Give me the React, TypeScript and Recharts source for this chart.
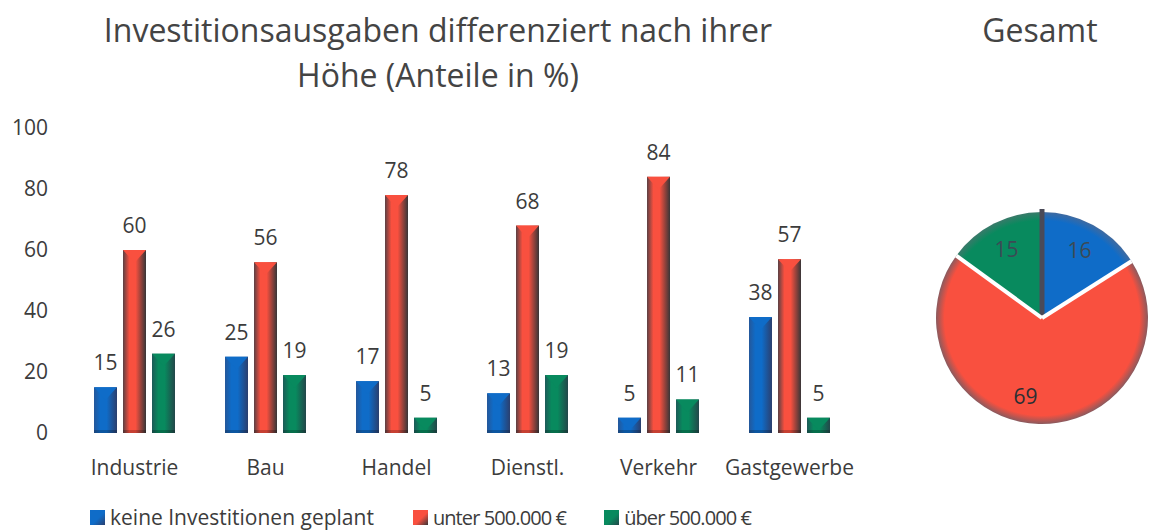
import { Bar, BarChart, Cell, LabelList, Legend, Pie, PieChart, XAxis, YAxis } from 'recharts';

const categories = ['Industrie', 'Bau', 'Handel', 'Dienstl.', 'Verkehr', 'Gastgewerbe'];
const keine = [15, 25, 17, 13, 5, 38];
const unter = [60, 56, 78, 68, 84, 57];
const ueber = [26, 19, 5, 19, 11, 5];
const yTicks = [0, 20, 40, 60, 80, 100];

const gesamtNames = ['keine Investitionen geplant', 'unter 500.000 €', 'über 500.000 €'];
const gesamtValues = [16, 69, 15];

const barData = categories.map((name, i) => ({ name, keine: keine[i], unter: unter[i], ueber: ueber[i] }));
const pieData = gesamtNames.map((name, i) => ({ name, value: gesamtValues[i] }));

const FONT = '"Open Sans", sans-serif';
const TEXT = '#3c3c3c';
const PIE_R = 106;
const PIE_CX = 122;
const PIE_CY = 128;

const palette = [
  { id: 'blau', base: '#0f6cc8', edgeL: '#24579a', edgeR: '#2b3f6e', rim: '#3f6aa0' },
  { id: 'rot', base: '#f9503f', edgeL: '#5a4044', edgeR: '#383638', rim: '#8a5a5e' },
  { id: 'gruen', base: '#088a5e', edgeL: '#1d5a58', edgeR: '#23474a', rim: '#3a7a6a' },
];

const BarGradient = ({ id, base, edgeL, edgeR }: { id: string; base: string; edgeL: string; edgeR: string }) => (
  <linearGradient id={id} x1="0" y1="0" x2="1" y2="0">
    <stop offset="0%" stopColor={edgeL} />
    <stop offset="28%" stopColor={base} />
    <stop offset="55%" stopColor={base} />
    <stop offset="100%" stopColor={edgeR} />
  </linearGradient>
);

// Balken mit abgeschraegter Oberkante wie im Original
const bevelBar = (base: string) => (props: any) => {
  const { x, y, width, height, fill } = props;
  return (
    <g>
      <rect x={x} y={y} width={width} height={height} fill={fill} />
      <polygon points={`${x},${y} ${x + width},${y} ${x + width / 2},${y + width * 0.55}`} fill={base} />
      <rect x={x} y={y + height - 3} width={width} height={3} fill="#000" opacity={0.2} />
    </g>
  );
};

const legendIcon = (c: { base: string; edgeR: string }) => ({
  display: 'inline-block',
  width: 15,
  height: 15,
  marginRight: 5,
  background: `linear-gradient(135deg, ${c.base} 55%, ${c.edgeR})`,
});

const renderLegend = (props: any) => {
  const gaps = [39, 38, 0];
  return (
    <div style={{ display: 'flex', alignItems: 'center', fontFamily: FONT, fontSize: 21, color: TEXT, whiteSpace: 'nowrap' }}>
      {(props.payload || []).map((item: any, i: number) => (
        <span
          key={item.value}
          style={{
            display: 'flex',
            alignItems: 'center',
            marginRight: gaps[i],
            // die Betragstexte laufen im Original deutlich schmaler
            fontSize: i === 0 ? 21 : 20,
            letterSpacing: i === 0 ? 0 : -0.9,
          }}
        >
          <span style={legendIcon(palette[i])} />
          {item.value}
        </span>
      ))}
    </div>
  );
};

const renderPieLabel = (props: any) => {
  const { cx, cy, midAngle, startAngle, value, index } = props;
  const rad = Math.PI / 180;
  const lx = cx + 78 * Math.cos(-midAngle * rad) + (index === 1 ? -14 : 0);
  const ly = cy + 78 * Math.sin(-midAngle * rad);
  const ex = cx + PIE_R * Math.cos(-startAngle * rad);
  const ey = cy + PIE_R * Math.sin(-startAngle * rad);
  return (
    <g>
      {index === 0 ? (
        <line x1={cx} y1={cy} x2={ex} y2={ey - 3} stroke="#4a4a58" strokeWidth={5} />
      ) : (
        <line x1={cx} y1={cy} x2={ex} y2={ey} stroke="#fff" strokeWidth={4} />
      )}
      <text
        x={lx}
        y={ly}
        textAnchor="middle"
        dominantBaseline="central"
        fontFamily={FONT}
        fontSize={21}
        fill={index === 1 ? '#2a2f33' : '#3c4a55'}
      >
        {value}
      </text>
    </g>
  );
};

const App = () => (
  <div style={{ position: 'absolute', left: 0, top: 0, width: 1152, height: 531, background: '#fff', overflow: 'hidden' }}>
    <div
      style={{
        position: 'absolute',
        left: 60,
        top: 7,
        width: 756,
        textAlign: 'center',
        fontFamily: FONT,
        fontSize: 32,
        lineHeight: '45px',
        color: '#444',
      }}
    >
      Investitionsausgaben differenziert nach ihrer
      <br />
      Höhe (Anteile in %)
    </div>
    <div
      style={{
        position: 'absolute',
        left: 940,
        top: 7,
        width: 200,
        textAlign: 'center',
        fontFamily: FONT,
        fontSize: 32,
        lineHeight: '45px',
        color: '#444',
      }}
    >
      Gesamt
    </div>

    <div style={{ position: 'absolute', left: 0, top: 0 }}>
      <BarChart
        width={900}
        height={531}
        data={barData}
        margin={{ top: 128, right: 45, bottom: 40, left: 9 }}
        barSize={23}
        barGap={6}
      >
        <defs>
          {palette.map((c) => (
            <BarGradient key={c.id} {...c} />
          ))}
        </defs>
        <XAxis
          dataKey="name"
          axisLine={false}
          tickLine={false}
          interval={0}
          tickMargin={21}
          tick={{ fontFamily: FONT, fontSize: 21, fill: TEXT }}
        />
        <YAxis
          width={60}
          domain={[0, 100]}
          ticks={yTicks}
          axisLine={false}
          tickLine={false}
          tickSize={0}
          tickMargin={21}
          tick={{ fontFamily: FONT, fontSize: 21, fill: TEXT }}
        />
        <Legend content={renderLegend} wrapperStyle={{ left: 90, top: 503, width: 'auto' }} />
        <Bar name="keine Investitionen geplant" dataKey="keine" fill="url(#blau)" shape={bevelBar(palette[0].base)} isAnimationActive={false}>
          <LabelList dataKey="keine" position="top" offset={17} style={{ fontFamily: FONT, fontSize: 21, fill: TEXT }} />
        </Bar>
        <Bar name="unter 500.000 €" dataKey="unter" fill="url(#rot)" shape={bevelBar(palette[1].base)} isAnimationActive={false}>
          <LabelList dataKey="unter" position="top" offset={17} style={{ fontFamily: FONT, fontSize: 21, fill: TEXT }} />
        </Bar>
        <Bar name="über 500.000 €" dataKey="ueber" fill="url(#gruen)" shape={bevelBar(palette[2].base)} isAnimationActive={false}>
          <LabelList dataKey="ueber" position="top" offset={17} style={{ fontFamily: FONT, fontSize: 21, fill: TEXT }} />
        </Bar>
      </BarChart>
    </div>

    <div style={{ position: 'absolute', left: 920, top: 190 }}>
      <PieChart width={232} height={250} margin={{ top: 0, right: 0, bottom: 0, left: 0 }}>
        <defs>
          {palette.map((c) => (
            <radialGradient key={c.id} id={`${c.id}Pie`} gradientUnits="userSpaceOnUse" cx={PIE_CX} cy={PIE_CY} r={PIE_R}>
              <stop offset="92%" stopColor={c.base} />
              <stop offset="100%" stopColor={c.rim} />
            </radialGradient>
          ))}
        </defs>
        <Pie
          data={pieData}
          dataKey="value"
          nameKey="name"
          cx={PIE_CX}
          cy={PIE_CY}
          outerRadius={PIE_R}
          startAngle={90}
          endAngle={-270}
          stroke="none"
          label={renderPieLabel}
          labelLine={false}
          isAnimationActive={false}
        >
          {pieData.map((d, i) => (
            <Cell key={d.name} fill={`url(#${palette[i].id}Pie)`} />
          ))}
        </Pie>
      </PieChart>
    </div>
  </div>
);

export default App;
